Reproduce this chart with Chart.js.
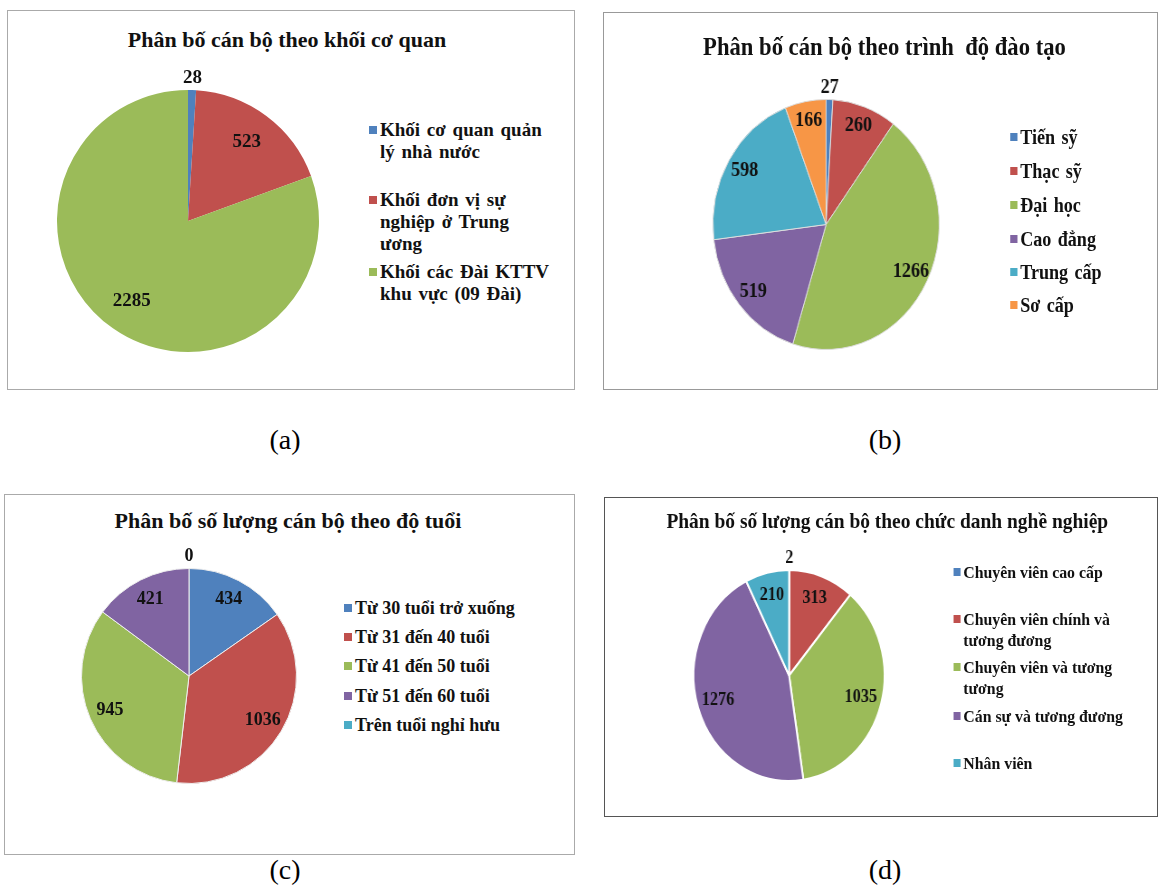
<!DOCTYPE html>
<html>
<head>
<meta charset="utf-8">
<script src="https://cdn.jsdelivr.net/npm/chart.js@4.4.0/dist/chart.umd.min.js"></script>
<style>
  body { margin: 0; background: #fff; font-family: "Liberation Serif", "Times New Roman", serif; }
  #page { position: relative; width: 1158px; height: 886px; overflow: hidden; }
  .box { position: absolute; border: 1px solid #999; box-sizing: border-box; }
  .wrap { position: absolute; top: 0; left: 0; transform-origin: 0 0; }
  .title { position: absolute; font-weight: bold; white-space: pre; transform: translate(-50%, -50%); color: #111; }
  .lg { position: absolute; font-weight: bold; color: #111; }
  .lg .sq { position: absolute; width: 8px; height: 8px; }
  canvas { position: absolute; }
  .cap { position: absolute; font-size: 28px; transform: translate(-50%, -50%); }
</style>
</head>
<body>
<div id="page"></div>
<script>
// ---- data ----
const catsA = ['Khối cơ quan quản lý nhà nước', 'Khối đơn vị sự nghiệp ở Trung ương', 'Khối các Đài KTTV khu vực (09 Đài)'];
const valsA = [28, 523, 2285];

const catsB = ['Tiến sỹ', 'Thạc sỹ', 'Đại học', 'Cao đẳng', 'Trung cấp', 'Sơ cấp'];
const valsB = [27, 260, 1266, 519, 598, 166];

const catsC = ['Từ 30 tuổi trở xuống', 'Từ 31 đến 40 tuổi', 'Từ 41 đến 50 tuổi', 'Từ 51 đến 60 tuổi', 'Trên tuổi nghỉ hưu'];
const valsC = [434, 1036, 945, 421, 0];

const catsD = ['Chuyên viên cao cấp', 'Chuyên viên chính và tương đương', 'Chuyên viên và tương tương', 'Cán sự và tương đương', 'Nhân viên'];
const valsD = [2, 313, 1035, 1276, 210];

const titleA = 'Phân bố cán bộ theo khối cơ quan';
const titleB = 'Phân bố cán bộ theo trình  độ đào tạo';
const titleC = 'Phân bố số lượng cán bộ theo độ tuổi';
const titleD = 'Phân bố số lượng cán bộ theo chức danh nghề nghiệp';

const colors = ['#4F81BD', '#C0504D', '#9BBB59', '#8064A2', '#4BACC6', '#F79646'];

// value labels on the slices, small slices go just outside the rim
const sliceLabels = {
  id: 'sliceLabels',
  afterDatasetsDraw(chart, args, opts) {
    const ctx = chart.ctx;
    const data = chart.data.datasets[0].data;
    const total = data.reduce((a, b) => a + b, 0);
    ctx.save();
    ctx.font = opts.font;
    ctx.fillStyle = '#111';
    ctx.textAlign = 'center';
    ctx.textBaseline = 'middle';
    chart.getDatasetMeta(0).data.forEach((arc, i) => {
      const p = arc.getProps(['x', 'y', 'startAngle', 'endAngle', 'outerRadius'], true);
      const mid = (p.startAngle + p.endAngle) / 2;
      const d = data[i] / total < 0.02 ? p.outerRadius + opts.outside : p.outerRadius * opts.inside;
      ctx.fillText(String(data[i]), p.x + Math.cos(mid) * d, p.y + Math.sin(mid) * d);
    });
    ctx.restore();
  }
};

const page = document.getElementById('page');

function panel(cfg) {
  const box = document.createElement('div');
  box.className = 'box';
  Object.assign(box.style, { left: cfg.box[0] + 'px', top: cfg.box[1] + 'px',
    width: (cfg.box[2] - cfg.box[0]) + 'px', height: (cfg.box[3] - cfg.box[1]) + 'px', borderColor: cfg.border });
  page.appendChild(box);

  const wrap = document.createElement('div');
  wrap.className = 'wrap';
  wrap.style.left = cfg.ox + 'px';
  wrap.style.transform = 'scaleX(' + cfg.sx + ')';
  page.appendChild(wrap);

  const t = document.createElement('div');
  t.className = 'title';
  t.textContent = cfg.title;
  Object.assign(t.style, { left: cfg.titlePos[0] + 'px', top: cfg.titlePos[1] + 'px', fontSize: cfg.titleSize + 'px' });
  wrap.appendChild(t);

  cfg.cats.forEach((c, i) => {
    const it = document.createElement('div');
    it.className = 'lg';
    Object.assign(it.style, { left: cfg.legX + 'px', top: (cfg.legY[i] - cfg.lh / 2) + 'px',
      width: cfg.legW + 'px', fontSize: cfg.legSize + 'px', lineHeight: cfg.lh + 'px',
      wordSpacing: (cfg.ws || 0) + 'px' });
    const sq = document.createElement('span');
    sq.className = 'sq';
    Object.assign(sq.style, { background: colors[i], left: '-11px', top: (cfg.lh / 2 - 4) + 'px' });
    it.appendChild(sq);
    it.appendChild(document.createTextNode(c));
    wrap.appendChild(it);
  });

  const pad = 30;
  const cv = document.createElement('canvas');
  const size = 2 * cfg.r + 2 * pad;
  cv.width = size; cv.height = size;
  Object.assign(cv.style, { left: (cfg.c[0] - cfg.r - pad) + 'px', top: (cfg.c[1] - cfg.r - pad) + 'px' });
  wrap.appendChild(cv);

  new Chart(cv, {
    type: 'pie',
    data: {
      labels: cfg.cats,
      datasets: [{
        data: cfg.vals,
        backgroundColor: colors.slice(0, cfg.vals.length),
        borderColor: cfg.sliceBorder,
        borderWidth: cfg.sliceBorderW
      }]
    },
    options: {
      responsive: false,
      animation: false,
      layout: { padding: pad },
      plugins: {
        legend: { display: false },
        tooltip: { enabled: false },
        sliceLabels: { font: 'bold ' + cfg.labelSize + 'px "Liberation Serif"', inside: cfg.inside, outside: 12 }
      }
    },
    plugins: [sliceLabels]
  });

  const cap = document.createElement('div');
  cap.className = 'cap';
  cap.textContent = cfg.caption;
  Object.assign(cap.style, { left: cfg.capPos[0] + 'px', top: cfg.capPos[1] + 'px' });
  page.appendChild(cap);
}

panel({ box: [7, 10, 575, 390], border: '#aaa', ox: 0, sx: 1,
  title: titleA, titlePos: [287, 40], titleSize: 22,
  cats: catsA, vals: valsA, c: [188, 221], r: 131, inside: 0.75, labelSize: 19,
  sliceBorder: '#fff', sliceBorderW: 0,
  legX: 380, legY: [130, 200, 272], legW: 172, legSize: 19, lh: 22, ws: 2,
  caption: '(a)', capPos: [285, 440] });

panel({ box: [603, 12, 1158, 390], border: '#999', ox: 603, sx: 0.905,
  title: titleB, titlePos: [311, 47], titleSize: 25,
  cats: catsB, vals: valsB, c: [246, 224.5], r: 125.5, inside: 0.84, labelSize: 20,
  sliceBorder: '#ddd', sliceBorderW: 1,
  legX: 461, legY: [137, 171, 205, 239, 272, 305], legW: 200, legSize: 20, lh: 22, ws: 2,
  caption: '(b)', capPos: [885, 440] });

panel({ box: [4, 494, 575, 855], border: '#aaa', ox: 0, sx: 1,
  title: titleC, titlePos: [288, 521], titleSize: 22,
  cats: catsC, vals: valsC, c: [189, 676], r: 108, inside: 0.8, labelSize: 18,
  sliceBorder: '#eee', sliceBorderW: 1,
  legX: 355, legY: [608, 637, 666, 696, 725], legW: 220, legSize: 18, lh: 20,
  caption: '(c)', capPos: [285, 870] });

panel({ box: [604, 497, 1158, 817], border: '#555', ox: 604, sx: 0.905,
  title: titleD, titlePos: [313, 521], titleSize: 21.5,
  cats: catsD, vals: valsD, c: [204.5, 675.5], r: 106.5, inside: 0.78, labelSize: 18,
  sliceBorder: '#fff', sliceBorderW: 2,
  legX: 397, legY: [572, 619, 667, 716, 763], legW: 195, legSize: 17.5, lh: 21,
  caption: '(d)', capPos: [885, 870] });
</script>
</body>
</html>
